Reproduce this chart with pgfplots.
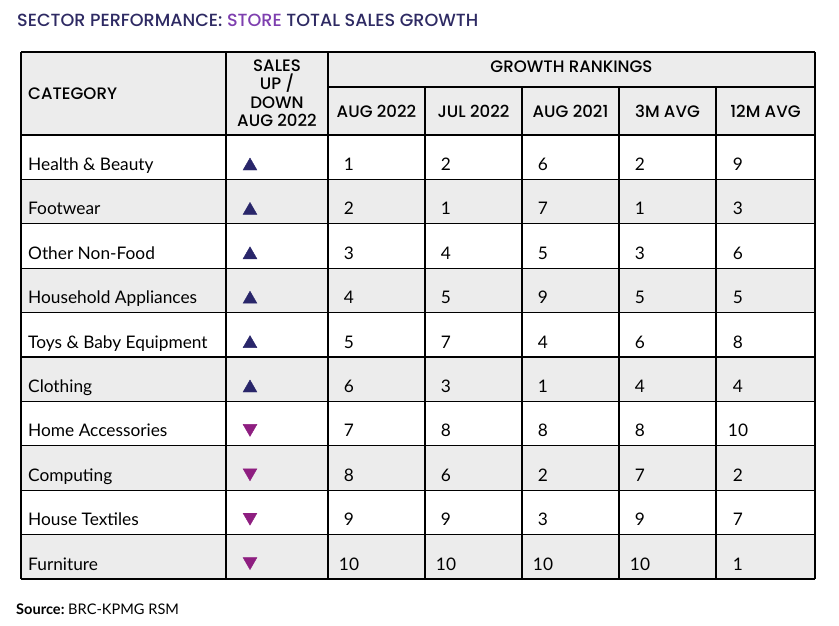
\documentclass[border=0pt]{standalone}
\usepackage{fontspec}
\setmainfont{Lato}
\IfFontExistsTF{Poppins Medium}{\newfontfamily\hdr{Poppins Medium}}{\newfontfamily\hdr{Poppins}}
\usepackage{pgfplots}
\usepackage{pgfplotstable}
\pgfplotsset{compat=1.18}
\frenchspacing
\definecolor{gfill}{HTML}{ECECEC}
\definecolor{navy}{HTML}{2E2A63}
\definecolor{trinavy}{HTML}{29266A}
\definecolor{tripurple}{HTML}{8E1E80}
\definecolor{storep}{HTML}{7E3FAF}

\pgfplotstableread[col sep=comma]{
top,cat,up,A,B,C,D,E
135.0,Health \& Beauty,1,1,2,6,2,9
179.4,Footwear,1,2,1,7,1,3
223.8,Other Non-Food,1,3,4,5,3,6
268.2,Household Appliances,1,4,5,9,5,5
312.6,Toys \& Baby Equipment,1,5,7,4,6,8
357.0,Clothing,1,6,3,1,4,4
401.4,Home Accessories,0,7,8,8,8,10
445.8,Computing,0,8,6,2,7,2
490.2,House Textiles,0,9,9,3,9,7
534.6,Furniture,0,10,10,10,10,1
}\ranks

\newcommand{\hdsz}{\hdr\fontsize{16.6bp}{19bp}\selectfont}
\newcommand{\bodysz}{\fontsize{17.3bp}{20bp}\selectfont}
\begin{document}
\begin{tikzpicture}
\begin{axis}[
  scale only axis, width=839bp, height=626bp,
  xmin=0, xmax=839, ymin=0, ymax=626, y dir=reverse,
  hide axis, clip=false,
]
% fills
\addplot[fill=gfill, draw=none] coordinates {(21,52)(815,52)(815,135)(21,135)};
\addplot[fill=gfill, draw=none] coordinates {(21,179.4)(815,179.4)(815,223.8)(21,223.8)};
\addplot[fill=gfill, draw=none] coordinates {(21,268.2)(815,268.2)(815,312.6)(21,312.6)};
\addplot[fill=gfill, draw=none] coordinates {(21,357.0)(815,357.0)(815,401.4)(21,401.4)};
\addplot[fill=gfill, draw=none] coordinates {(21,445.8)(815,445.8)(815,490.2)(21,490.2)};
\addplot[fill=gfill, draw=none] coordinates {(21,534.6)(815,534.6)(815,579)(21,579)};
% horizontal lines
\pgfplotsset{grid line/.style={black, line width=1.2bp, mark=none}}
\addplot[grid line] coordinates {(21,52)(815,52)};
\addplot[grid line] coordinates {(328,87)(815,87)};
\addplot[grid line] coordinates {(21,135)(815,135)};
\addplot[grid line] coordinates {(21,179.4)(815,179.4)};
\addplot[grid line] coordinates {(21,223.8)(815,223.8)};
\addplot[grid line] coordinates {(21,268.2)(815,268.2)};
\addplot[grid line] coordinates {(21,312.6)(815,312.6)};
\addplot[grid line] coordinates {(21,357.0)(815,357.0)};
\addplot[grid line] coordinates {(21,401.4)(815,401.4)};
\addplot[grid line] coordinates {(21,445.8)(815,445.8)};
\addplot[grid line] coordinates {(21,490.2)(815,490.2)};
\addplot[grid line] coordinates {(21,534.6)(815,534.6)};
\addplot[grid line] coordinates {(21,579)(815,579)};
% vertical lines
\addplot[grid line] coordinates {(21,52)(21,579)};
\addplot[grid line] coordinates {(226,52)(226,579)};
\addplot[grid line] coordinates {(328,52)(328,579)};
\addplot[grid line] coordinates {(425,87)(425,579)};
\addplot[grid line] coordinates {(522,87)(522,579)};
\addplot[grid line] coordinates {(619,87)(619,579)};
\addplot[grid line] coordinates {(716,87)(716,579)};
\addplot[grid line] coordinates {(815,52)(815,579)};
% category names
\addplot[draw=none, mark=none, point meta=explicit symbolic,
  nodes near coords, nodes near coords align={anchor=base west},
  every node near coord/.append style={inner sep=0pt, text=black, font=\bodysz}]
  table[x expr=28, y expr=\thisrow{top}+35.5, meta=cat] {\ranks};
% ranks
\pgfplotsset{rank/.style={draw=none, mark=none, point meta=explicit symbolic,
  nodes near coords, nodes near coords align={anchor=base},
  every node near coord/.append style={inner sep=0pt, text=black, font=\bodysz}}}
\addplot[rank] table[x expr=349, y expr=\thisrow{top}+35.5, meta=A] {\ranks};
\addplot[rank] table[x expr=446, y expr=\thisrow{top}+35.5, meta=B] {\ranks};
\addplot[rank] table[x expr=543, y expr=\thisrow{top}+35.5, meta=C] {\ranks};
\addplot[rank] table[x expr=640, y expr=\thisrow{top}+35.5, meta=D] {\ranks};
\addplot[rank] table[x expr=738, y expr=\thisrow{top}+35.5, meta=E] {\ranks};
% direction triangles
\addplot[only marks, mark=triangle*, mark size=8bp, color=trinavy,
  restrict expr to domain={\thisrow{up}}{0.5:1.5}]
  table[x expr=250, y expr=\thisrow{top}+31] {\ranks};
\addplot[only marks, mark=triangle*, mark size=8bp, color=tripurple,
  mark options={rotate=180},
  restrict expr to domain={\thisrow{up}}{-0.5:0.5}]
  table[x expr=250, y expr=\thisrow{top}+27] {\ranks};
% header texts
\node[anchor=base west, inner sep=0pt, text=navy] at (axis cs:17,27)
  {\hdr\fontsize{17.6bp}{20bp}\selectfont SECTOR PERFORMANCE: \textcolor{storep}{STORE} TOTAL SALES GROWTH};
\node[anchor=base west, inner sep=0pt] at (axis cs:28,99) {\hdsz CATEGORY};
\node[anchor=base, inner sep=0pt] at (axis cs:277,72) {\hdsz SALES};
\node[anchor=base, inner sep=0pt] at (axis cs:277,90) {\hdsz UP /};
\node[anchor=base, inner sep=0pt] at (axis cs:277,108) {\hdsz DOWN};
\node[anchor=base, inner sep=0pt] at (axis cs:277,126) {\hdsz AUG 2022};
\node[anchor=base, inner sep=0pt] at (axis cs:571.5,73) {\hdsz GROWTH RANKINGS};
\node[anchor=base, inner sep=0pt] at (axis cs:376.5,117) {\hdsz AUG 2022};
\node[anchor=base, inner sep=0pt] at (axis cs:473.5,117) {\hdsz JUL 2022};
\node[anchor=base, inner sep=0pt] at (axis cs:570.5,117) {\hdsz AUG 2021};
\node[anchor=base, inner sep=0pt] at (axis cs:667.5,117) {\hdsz 3M AVG};
\node[anchor=base, inner sep=0pt] at (axis cs:765.5,117) {\hdsz 12M AVG};
% source
\node[anchor=base west, inner sep=0pt] at (axis cs:16,614)
  {\fontsize{14.6bp}{17bp}\selectfont\textbf{Source:}\ BRC-KPMG RSM};
\end{axis}
\pgfresetboundingbox
\useasboundingbox (current axis.south west) rectangle (current axis.north east);
\end{tikzpicture}
\end{document}
